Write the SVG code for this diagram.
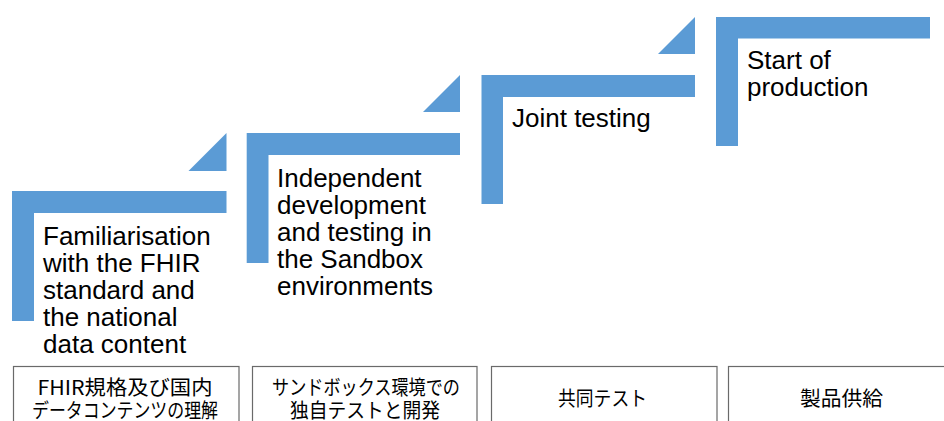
<svg xmlns="http://www.w3.org/2000/svg" width="944" height="421" viewBox="0 0 944 421">
<style>
.step{fill:#5B9BD5}
.lbl{font-family:"Liberation Sans",Arial,sans-serif;font-size:26px;fill:#000}
.box{fill:#fff;stroke:#6a6a6a;stroke-width:1.2}
.jp{font-family:"Noto Sans CJK JP","Noto Sans",sans-serif;font-size:20.5px;fill:#000;text-anchor:middle}
</style>
<rect width="944" height="421" fill="#fff"/>
<g id="connectors">
<polygon class="step" points="226.5,133 188.5,171 226.5,171"/>
<polygon class="step" points="460,75 423,112 460,112"/>
<polygon class="step" points="695,17 658,54 695,54"/>
</g>
<g id="step1">
<path class="step" d="M12,191 H226.5 V213 H34 V321 H12 Z"/>
<text class="lbl" x="43" y="244.7">Familiarisation<tspan x="43" dy="27">with the FHIR</tspan><tspan x="43" dy="27">standard and</tspan><tspan x="43" dy="27">the national</tspan><tspan x="43" dy="27">data content</tspan></text>
</g>
<g id="step2">
<path class="step" d="M246.7,133 H460 V155 H268.5 V263 H246.7 Z"/>
<text class="lbl" x="277" y="186.7">Independent<tspan x="277" dy="27">development</tspan><tspan x="277" dy="27">and testing in</tspan><tspan x="277" dy="27">the Sandbox</tspan><tspan x="277" dy="27">environments</tspan></text>
</g>
<g id="step3">
<path class="step" d="M481.5,75 H695 V97 H503 V204 H481.5 Z"/>
<text class="lbl" x="512" y="126.5">Joint testing</text>
</g>
<g id="step4">
<path class="step" d="M716,17 H930 V38.5 H738 V146 H716 Z"/>
<text class="lbl" x="747" y="68.5">Start of<tspan x="747" dy="27">production</tspan></text>
</g>
<g id="box1">
<rect class="box" x="13.5" y="366.5" width="225.5" height="80"/>
<text class="jp" x="125" y="395" textLength="175" lengthAdjust="spacingAndGlyphs">FHIR規格及び国内</text>
<text class="jp" x="125" y="418" textLength="186" lengthAdjust="spacingAndGlyphs">データコンテンツの理解</text>
</g>
<g id="box2">
<rect class="box" x="252.5" y="366.5" width="224.5" height="80"/>
<text class="jp" x="366" y="395" textLength="188" lengthAdjust="spacingAndGlyphs">サンドボックス環境での</text>
<text class="jp" x="365" y="418" textLength="150" lengthAdjust="spacingAndGlyphs">独自テストと開発</text>
</g>
<g id="box3">
<rect class="box" x="491.5" y="366.5" width="225.5" height="80"/>
<text class="jp" x="602.5" y="406" textLength="89" lengthAdjust="spacingAndGlyphs">共同テスト</text>
</g>
<g id="box4">
<rect class="box" x="728.5" y="366.5" width="226" height="80"/>
<text class="jp" x="841.5" y="406" textLength="83" lengthAdjust="spacingAndGlyphs">製品供給</text>
</g>
</svg>
